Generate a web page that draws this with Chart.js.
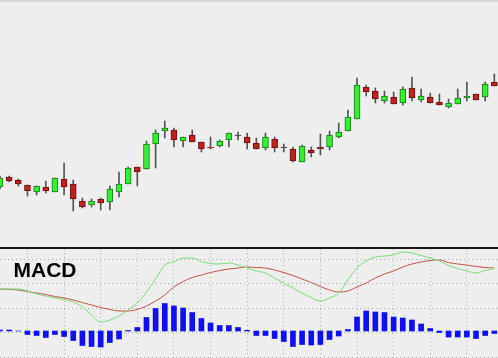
<!DOCTYPE html>
<html><head><meta charset="utf-8">
<script src="https://cdn.jsdelivr.net/npm/chart.js@4.4.0/dist/chart.umd.min.js"></script>
<style>
html,body{margin:0;padding:0;background:#eeeeee;overflow:hidden;}
#wrap{position:relative;width:498px;height:358px;background:#eeeeee;}
#top{position:absolute;left:0;top:0;}
#bot{position:absolute;left:0;top:249px;}
#topLine{position:absolute;left:0;top:0;width:498px;height:2px;background:#d9d9d9;}
#sep{position:absolute;left:0;top:247px;width:498px;height:2px;background:#1a1a1a;}
#label{position:absolute;left:13.5px;top:258.6px;font:bold 21px/21px "Liberation Sans",Arial,sans-serif;color:#000;}
</style></head>
<body><div id="wrap">
<canvas id="top" width="498" height="247"></canvas>
<canvas id="bot" width="498" height="109"></canvas>
<div id="topLine"></div><div id="sep"></div>
<div id="label">MACD</div>
</div>
<script>
// ---- Data ----
const candleIndex = Array.from({length: 55}, (_, i) => i);
const opens  = [63,73,70,65,58,63,58,71,66,49,45,51,48,58,66,83,81,106,119,120,109,115,108,103,104,110,114,113,107,102,111,102,101,88,100,103,103,113,119,131,163,159,149,153,147,162,150,153,148,143,146,152,156,153,168];
const highs  = [74,74,71,65,64,69,72,87,70,52,51,52,64,78,83,83,109,120,129,122,113,120,108,113,110,117,118,117,112,117,113,106,103,105,103,116,119,127,140,172,165,162,159,158,163,173,161,157,156,151,161,168,156,168,176];
const lows   = [61,68,64,54,55,57,58,55,39,42,43,40,40,53,66,64,81,82,112,103,103,108,98,101,103,103,110,101,101,100,98,98,88,88,93,95,100,112,119,131,154,147,147,146,145,149,148,147,145,142,146,149,150,149,164];
const closes = [72,69,66,59,64,59,72,63,51,43,49,47,61,66,82,78,106,117,122,110,113,108,101,102,109,117,114,107,101,113,102,102,89,104,97,101,115,118,133,165,158,151,154,146,161,152,154,147,145,147,152,154,150,166,164];

const macdLine   = [42,42,42,40,37,35,33,31.5,29,24,16,9,11,15,21,28,39,52,66,69,73,73,69.5,67.5,67,68,66,63,60,58,53,48,43,38,33.5,30,33,38,51,63,70,74,75,76,79,78,75.5,73,70,65.5,62.5,60,58,60.5,62.5];
const signalLine = [42,41.5,41,39.5,38,36.5,34.5,33,31,28.5,26,23.5,21.5,20,20,21.5,25,30,36,44,49.5,53.5,56,58.5,60.5,62,63,64,63.5,63,61,58.5,55.5,52,48.5,44.5,41,39,40,44,48,53,57,60,64,67,69,70.5,71,68.5,67,66,64.5,63.5,63];
const histogram  = [1,1,0,-3.5,-4.5,-6.5,-3.5,-5.5,-9.5,-14.5,-15.5,-16,-11.5,-8,0.5,3.5,13.5,22.5,27.5,25,23,18.5,12.5,8,5.5,5.5,3.5,0.7,-4.5,-4.5,-7.5,-10.5,-15.5,-13.5,-14,-13.5,-8.5,-5,1.5,14,20,19,18.5,14,13,11,7,2.5,-1.5,-6,-6,-6,-7.5,-4.5,-2.5];

const gridIndex  = [1,5,9,13,17,21,25,29,33,37,41,45,49,53];
const gridLevels = [72,47.5,23,-1.5,-26];

// ---- Styles ----
const UP = '#33ee33', UP_BORDER = '#1d7a1d';
const DOWN = '#bb2222', DOWN_BORDER = '#701010';
const DOJI = '#444444';
const X_MIN = 0, X_MAX = 54.4;

const bodyData = candleIndex.map(i => {
  let lo = Math.min(opens[i], closes[i]), hi = Math.max(opens[i], closes[i]);
  if (hi - lo < 1) hi = lo + 1;
  return {x: i, y: [lo, hi]};
});
const bodyFill = candleIndex.map(i => closes[i] > opens[i] ? UP : (closes[i] < opens[i] ? DOWN : DOJI));
const bodyBorder = candleIndex.map(i => closes[i] > opens[i] ? UP_BORDER : (closes[i] < opens[i] ? DOWN_BORDER : DOJI));

Chart.defaults.animation = false;

new Chart(document.getElementById('top'), {
  type: 'bar',
  data: {
    datasets: [
      {label: 'body', data: bodyData, backgroundColor: bodyFill, borderColor: bodyBorder,
       borderWidth: 1, borderSkipped: false, barThickness: 6, grouped: false, order: 0},
      {label: 'wick', data: candleIndex.map(i => ({x: i, y: [lows[i], highs[i]]})),
       backgroundColor: '#555555', borderWidth: 0, barThickness: 1, grouped: false, order: 1}
    ]
  },
  options: {
    responsive: false, devicePixelRatio: 1, animation: false,
    layout: {padding: 0},
    plugins: {legend: {display: false}, tooltip: {enabled: false}},
    scales: {
      x: {type: 'linear', min: X_MIN, max: X_MAX, offset: false, display: false},
      y: {type: 'linear', min: 3, max: 250, display: false}
    }
  }
});

new Chart(document.getElementById('bot'), {
  type: 'bar',
  data: {
    datasets: [
      {type: 'line', label: 'MACD', data: candleIndex.map(i => ({x: i, y: macdLine[i]})),
       borderColor: '#77dd77', borderWidth: 1, pointRadius: 0, cubicInterpolationMode: 'monotone', order: 1},
      {type: 'line', label: 'Signal', data: candleIndex.map(i => ({x: i, y: signalLine[i]})),
       borderColor: '#c05545', borderWidth: 1, pointRadius: 0, cubicInterpolationMode: 'monotone', order: 2},
      {label: 'Histogram', data: candleIndex.map(i => ({x: i, y: histogram[i]})),
       backgroundColor: '#1010ee', borderWidth: 0, barThickness: 5, grouped: false, order: 3}
    ]
  },
  options: {
    responsive: false, devicePixelRatio: 1, animation: false,
    layout: {padding: 0},
    plugins: {legend: {display: false}, tooltip: {enabled: false}},
    scales: {
      x: {type: 'linear', min: X_MIN, max: X_MAX, offset: false,
          afterBuildTicks: s => { s.ticks = gridIndex.map(v => ({value: v})); },
          afterFit: s => { s.height = 0; },
          ticks: {display: false},
          grid: {color: '#a8a8a8', lineWidth: 1, drawTicks: false},
          border: {display: false, dash: [1, 3]}},
      y: {type: 'linear', min: -27, max: 82,
          afterBuildTicks: s => { s.ticks = gridLevels.map(v => ({value: v})); },
          afterFit: s => { s.width = 0; },
          ticks: {display: false},
          grid: {color: '#a8a8a8', lineWidth: 1, drawTicks: false},
          border: {display: false, dash: [1, 3]}}
    }
  }
});
</script>
</body></html>
